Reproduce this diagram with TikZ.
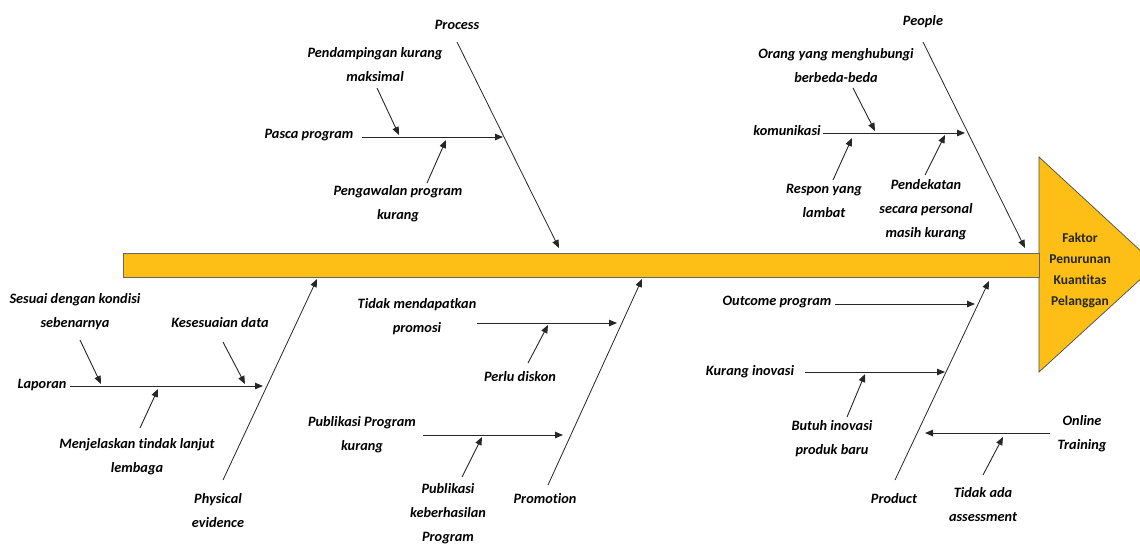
\documentclass[tikz,border=0pt]{standalone}
\usepackage{fontspec}
\setmainfont{Carlito}[Ligatures=NoCommon]
\usetikzlibrary{arrows.meta}
\definecolor{spineyellow}{RGB}{253,191,22}
\begin{document}
\begin{tikzpicture}[x=1pt,y=-1pt,
  lbl/.style={font=\bfseries\itshape\fontsize{14.3}{24}\selectfont, align=center, inner sep=0pt, text=black},
  headtxt/.style={font=\bfseries\fontsize{13.5}{21}\selectfont, align=center, inner sep=0pt, text=black!85},
  arr/.style={-{Triangle[length=8pt,width=6.5pt]}, line width=0.9pt, draw=black!85},
  bonearr/.style={arr, line width=0.8pt}]
\useasboundingbox (0,0) rectangle (1140,547);
% head and spine
\begin{scope}
  \clip (0,0) rectangle (1140,547);
  \draw[fill=spineyellow, draw=black!70, line width=0.7pt] (1039,157) -- (1156,265) -- (1039,372) -- cycle;
\end{scope}
\draw[fill=spineyellow, draw=black!60, line width=1pt] (123,253) rectangle (1039,277);
\node[headtxt] (head) at (1080,270) {Faktor\\Penurunan\\Kuantitas\\Pelanggan};

% Process
\node[lbl] (process) at (457,25) {Process};
\coordinate (pr0) at (457,42); \coordinate (pr1) at (559,248);
\draw[bonearr] (pr0) -- (pr1);
\node[lbl] (pasca) at (309,135) {Pasca program};
\coordinate (pa0) at (362,137); \coordinate (pa1) at (503,137);
\draw[arr] (pa0) -- (pa1);
\node[lbl] (pendamp) at (375,65) {Pendampingan kurang\\maksimal};
\coordinate (pd0) at (377,88); \coordinate (pd1) at (399,135);
\draw[arr] (pd0) -- (pd1);
\node[lbl] (pengawal) at (398,204) {Pengawalan program\\kurang};
\coordinate (pg0) at (427,183); \coordinate (pg1) at (446,140);
\draw[arr] (pg0) -- (pg1);

% People
\node[lbl] (people) at (923,22) {People};
\coordinate (pe0) at (923,42); \coordinate (pe1) at (1025,248);
\draw[bonearr] (pe0) -- (pe1);
\node[lbl] (komunikasi) at (787,131) {komunikasi};
\coordinate (ko0) at (823,133); \coordinate (ko1) at (965,133);
\draw[arr] (ko0) -- (ko1);
\node[lbl] (orang) at (836,66) {Orang yang menghubungi\\berbeda-beda};
\coordinate (or0) at (853,88); \coordinate (or1) at (875,131);
\draw[arr] (or0) -- (or1);
\node[lbl] (respon) at (824,201) {Respon yang\\lambat};
\coordinate (re0) at (833,180); \coordinate (re1) at (852,138);
\draw[arr] (re0) -- (re1);
\node[lbl] (pendekatan) at (926,210) {Pendekatan\\secara personal\\masih kurang};
\coordinate (pk0) at (925,175); \coordinate (pk1) at (945,135);
\draw[arr] (pk0) -- (pk1);

% Physical evidence
\node[lbl] (physical) at (218,511) {Physical\\evidence};
\coordinate (ph0) at (223,480); \coordinate (ph1) at (317,279);
\draw[bonearr] (ph0) -- (ph1);
\node[lbl] (laporan) at (42,385) {Laporan};
\coordinate (la0) at (70,386); \coordinate (la1) at (263,386);
\draw[arr] (la0) -- (la1);
\node[lbl] (sesuai) at (75,312) {Sesuai dengan kondisi\\sebenarnya};
\coordinate (se0) at (80,340); \coordinate (se1) at (101,384);
\draw[arr] (se0) -- (se1);
\node[lbl] (kesesuaian) at (220,323) {Kesesuaian data};
\coordinate (ke0) at (223,342); \coordinate (ke1) at (245,384);
\draw[arr] (ke0) -- (ke1);
\node[lbl] (menjelaskan) at (137,457) {Menjelaskan tindak lanjut\\lembaga};
\coordinate (mj0) at (140,428); \coordinate (mj1) at (158,389);
\draw[arr] (mj0) -- (mj1);

% Promotion
\node[lbl] (promotion) at (545,499) {Promotion};
\coordinate (pm0) at (548,485); \coordinate (pm1) at (642,279);
\draw[bonearr] (pm0) -- (pm1);
\node[lbl] (tidakmend) at (417,317) {Tidak mendapatkan\\promosi};
\coordinate (tm0) at (477,323); \coordinate (tm1) at (617,323);
\draw[arr] (tm0) -- (tm1);
\node[lbl] (diskon) at (520,377) {Perlu diskon};
\coordinate (di0) at (528,363); \coordinate (di1) at (548,325);
\draw[arr] (di0) -- (di1);
\node[lbl] (publikasi) at (362,435) {Publikasi Program\\kurang};
\coordinate (pu0) at (423,435); \coordinate (pu1) at (563,435);
\draw[arr] (pu0) -- (pu1);
\node[lbl] (publikasi2) at (448,514) {Publikasi\\keberhasilan\\Program};
\coordinate (pb0) at (462,477); \coordinate (pb1) at (482,437);
\draw[arr] (pb0) -- (pb1);

% Product
\node[lbl] (product) at (894,499) {Product};
\coordinate (pt0) at (895,480); \coordinate (pt1) at (989,281);
\draw[bonearr] (pt0) -- (pt1);
\node[lbl] (outcome) at (777,302) {Outcome program};
\coordinate (oc0) at (835,304); \coordinate (oc1) at (975,304);
\draw[arr] (oc0) -- (oc1);
\node[lbl] (kurangino) at (750,372) {Kurang inovasi};
\coordinate (ki0) at (805,372); \coordinate (ki1) at (945,372);
\draw[arr] (ki0) -- (ki1);
\node[lbl] (butuh) at (832,439) {Butuh inovasi\\produk baru};
\coordinate (bu0) at (847,417); \coordinate (bu1) at (865,374);
\draw[arr] (bu0) -- (bu1);
\node[lbl] (online) at (1082,434) {Online\\Training};
\coordinate (on0) at (1050,433); \coordinate (on1) at (925,433);
\draw[arr] (on0) -- (on1);
\node[lbl] (tidakada) at (983,505) {Tidak ada\\assessment};
\coordinate (ta0) at (983,475); \coordinate (ta1) at (1003,437);
\draw[arr] (ta0) -- (ta1);
\end{tikzpicture}
\end{document}
